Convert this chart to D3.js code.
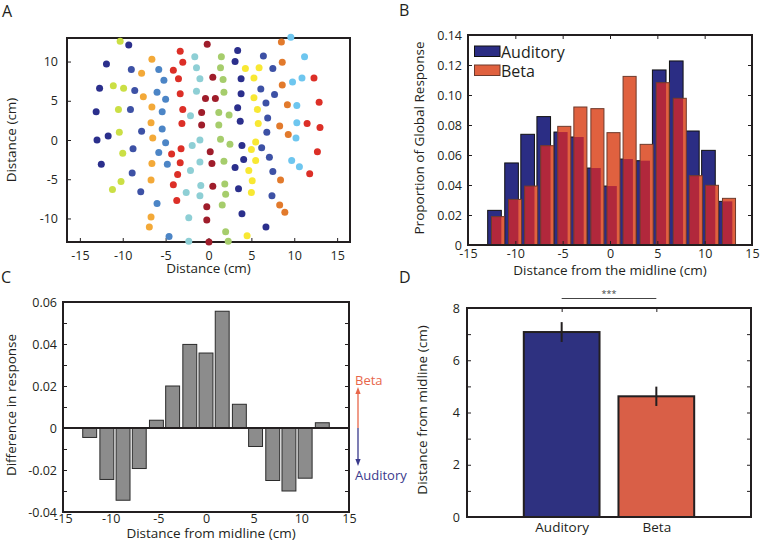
<!DOCTYPE html>
<html>
<head>
<meta charset="utf-8">
<script src="https://cdnjs.cloudflare.com/ajax/libs/d3/7.8.5/d3.min.js"></script>
<style>
  body { margin: 0; background: #fff; }
  svg { font-family: "Open Sans", sans-serif; }
</style>
</head>
<body>
<svg id="fig" width="760" height="541"></svg>
<script>
// ---- panel A: electrode positions (cm) and colour group index
const elecX = [-10.3,-9.3,-0.15,-3.3,-1.6,1.5,3.4,6.4,8.5,9.6,11.2,-11.9,-6.6,-3.0,3.1,8.6,-9.0,-7.8,-5.8,-4.1,
  -1.4,1.4,4.3,5.9,7.5,-5.2,-3.5,-1.0,0.5,1.7,3.8,5.3,8.6,9.8,10.9,12.3,-12.7,-11.1,-9.9,-8.6,
  -6.0,-7.6,-5.0,-3.3,-1.4,-0.35,0.8,1.8,3.8,6.1,7.7,5.3,6.7,9.2,10.3,12.9,-13.1,-10.5,-9.1,-6.6,
  -5.4,-3.0,-2.1,-0.8,1.2,2.4,3.4,5.7,6.9,-6.7,-3.1,-0.8,1.2,3.7,5.8,8.3,10.3,11.5,13.0,-11.7,
  -10.4,-7.8,-5.4,-13.0,-6.5,-5.0,-1.0,-1.9,1.4,2.5,3.9,5.5,6.8,9.3,10.2,6.2,5.0,-8.8,-3.2,-4.3,
  -5.8,0.2,-10.0,-12.5,-6.6,-4.8,-3.3,-1.0,0.4,1.8,3.1,4.1,5.5,7.1,9.7,10.6,12.7,11.8,-8.9,-2.1,
  -3.6,4.7,7.5,-10.2,-11.2,-6.7,-4.1,-0.9,0.5,1.9,5.1,8.4,-7.9,-2.6,-1.0,2.0,3.5,5.0,7.4,-3.7,
  -6.0,-0.2,1.6,8.3,8.9,3.9,-6.7,-2.3,-0.2,-6.9,6.7,-4.6,-2.3,0.05,2.0,2.3,4.5];
const elecY = [12.6,12.1,12.2,11.3,10.6,10.6,11.4,10.7,12.5,13.1,10.6,9.7,10.3,9.9,10.0,9.9,9.0,8.5,9.0,8.9,
  9.2,9.2,9.1,9.2,9.1,7.6,7.8,7.8,8.0,7.7,7.8,7.9,7.0,7.4,7.9,7.9,6.6,6.9,6.6,6.3,
  6.1,5.5,5.2,5.9,6.2,5.3,5.3,6.1,5.9,6.5,5.8,5.4,4.7,4.5,4.4,4.8,3.6,3.9,3.9,4.2,
  3.6,3.9,3.1,3.5,3.5,3.2,4.1,3.9,2.8,2.2,2.1,1.9,1.9,2.4,2.1,1.8,2.2,2.1,1.6,0.5,
  1.0,1.1,1.4,0,0.25,-0.35,0,-0.7,0.1,-0.55,-0.7,-0.25,1.0,0.7,0.25,-1.0,-1.2,-1.1,-1.1,-1.8,
  -1.6,-1.5,-1.7,-3.1,-3.0,-3.1,-2.9,-2.8,-3.0,-2.7,-3.5,-2.5,-2.6,-2.2,-2.6,-3.4,-1.5,-4.3,-4.2,-3.9,
  -4.4,-3.9,-4.0,-5.3,-6.3,-5.1,-5.7,-5.8,-5.9,-5.6,-5.2,-5.1,-6.6,-6.7,-7.1,-6.9,-6.2,-6.7,-7.1,-7.7,
  -8.1,-8.5,-8.3,-8.3,-9.2,-9.4,-9.8,-9.9,-10.2,-11.1,-11.1,-12.3,-12.9,-13.0,-11.7,-12.9,-12.2];
const elecGroup = [6,0,11,10,4,5,0,1,9,3,3,0,8,10,0,9,1,8,2,10,
  4,5,7,7,1,2,10,4,11,5,0,7,9,3,3,10,0,6,6,1,
  2,8,2,10,4,11,11,5,0,1,1,7,1,9,3,10,0,6,1,8,
  2,10,4,11,5,5,0,7,1,8,10,11,5,0,7,9,3,10,10,0,
  6,1,2,0,8,2,4,4,5,5,0,7,1,9,3,1,7,1,10,10,
  2,11,6,0,8,2,10,4,11,5,0,0,7,1,3,3,10,10,1,4,
  10,7,1,6,6,8,10,4,11,5,7,9,1,4,4,5,0,7,1,10,
  2,11,5,9,9,0,8,4,11,8,0,2,4,11,5,5,7];
const groupColors = ["#2b2f8c","#3d51a5","#4c85c6","#6ec6ef","#8ecfd5","#a6cd6c",
  "#cbdf45","#f8e833","#f3a938","#e27a2c","#dc2f27","#9f1d2b"];

// ---- panels B and C: bins along the midline (cm)
const binCenters = [-12.2,-10.4,-8.7,-7.0,-5.2,-3.5,-1.7,0,1.7,3.5,5.2,7.0,8.7,10.4,12.2];
const auditoryProp = [0.0231,0.0547,0.0738,0.0856,0.0753,0.0720,0.0513,0.0393,0.0573,0.0562,0.1167,0.1227,0.0760,0.0631,0.0291];
const betaProp = [0.0189,0.0304,0.0393,0.0662,0.0791,0.0920,0.0909,0.0749,0.1124,0.0671,0.1082,0.0978,0.0462,0.0398,0.0311];
const diffResp = [-0.0045,-0.0245,-0.0344,-0.0193,0.0037,0.0200,0.0398,0.0357,0.0556,0.0113,-0.0088,-0.0250,-0.0300,-0.0239,0.0025];

// ---- panel D
const conditions = ["Auditory", "Beta"];
const meanDist = [7.08, 4.62];
const semDist = [0.38, 0.37];

// ---- tick values
const distTicks = [-15,-10,-5,0,5,10,15];
const aYTicks = [-10,-5,0,5,10];
const bYTicks = [0,0.02,0.04,0.06,0.08,0.10,0.12,0.14];
const cYTicks = [-0.04,-0.02,0,0.02,0.04,0.06];
const cYMinor = [-0.03,-0.01,0.01,0.03,0.05];
const dYTicks = [0,2,4,6,8];
const dYMinor = [1,3,5,7];

const ink = "#231f20";
const navy = "#2b2d84", orange = "#e0613f", crimson = "#b1283c";
const svg = d3.select("#fig");

const fmt2 = d => d === 0 ? "0" : d.toFixed(2);
const fmtInt = d => String(d);

function addAxis(axis, tx, ty, size) {
  const a = svg.append("g")
    .attr("transform", `translate(${tx},${ty})`)
    .call(axis)
    .attr("font-family", null)
    .attr("font-size", size || 12.5);
  a.select(".domain").remove();
  a.selectAll(".tick line").attr("stroke", ink);
  a.selectAll(".tick text").attr("fill", ink);
  return a;
}

function box(p) {
  svg.append("rect")
    .attr("x", p.l).attr("y", p.t)
    .attr("width", p.r - p.l).attr("height", p.b - p.t)
    .attr("fill", "none").attr("stroke", ink).attr("stroke-width", 2);
}

function label(txt, x, y, opts) {
  opts = opts || {};
  const t = svg.append("text")
    .attr("x", x).attr("y", y)
    .attr("fill", opts.fill || ink)
    .attr("font-size", opts.size || 13.5)
    .attr("text-anchor", opts.anchor || "middle")
    .text(txt);
  if (opts.rotate) t.attr("transform", `rotate(-90,${x},${y})`);
  return t;
}

// ================= Panel A
const pA = {l: 67, r: 350, t: 38, b: 242};
const xA = d3.scaleLinear().domain([-16.5, 16.5]).range([pA.l, pA.r]);
const yA = d3.scaleLinear().domain([-13, 13]).range([pA.b, pA.t]);
box(pA);
addAxis(d3.axisBottom(xA).tickValues(distTicks).tickSize(-4).tickPadding(9).tickFormat(fmtInt), 0, pA.b);
addAxis(d3.axisLeft(yA).tickValues(aYTicks).tickSize(-4).tickPadding(9).tickFormat(fmtInt), pA.l, 0);
svg.append("g").selectAll("circle")
  .data(elecX.map((x, i) => ({x: x, y: elecY[i], g: elecGroup[i]})))
  .enter().append("circle")
  .attr("cx", d => xA(d.x))
  .attr("cy", d => yA(d.y))
  .attr("r", 3.5)
  .attr("fill", d => groupColors[d.g]);
label("Distance (cm)", 208.5, 273);
label("Distance (cm)", 16, 140, {rotate: true});
label("A", 2, 17, {size: 16, anchor: "start"});

// ================= Panel B
const pB = {l: 468, r: 752, t: 35, b: 245};
const xB = d3.scaleLinear().domain([-15, 15]).range([pB.l, pB.r]);
const yB = d3.scaleLinear().domain([0, 0.14]).range([pB.b, pB.t]);
const audHalf = 0.72, betaHalf = 0.69, betaShift = 0.37;
const binsB = binCenters.map((c, i) => ({c: c, a: auditoryProp[i], b: betaProp[i]}));
const gB = svg.append("g");
gB.selectAll("rect.aud").data(binsB).enter().append("rect")
  .attr("class", "aud")
  .attr("x", d => xB(d.c - audHalf))
  .attr("width", d => xB(d.c + audHalf) - xB(d.c - audHalf))
  .attr("y", d => yB(d.a))
  .attr("height", d => yB(0) - yB(d.a))
  .attr("fill", navy).attr("stroke", "#111").attr("stroke-width", 1);
gB.selectAll("rect.beta").data(binsB).enter().append("rect")
  .attr("class", "beta")
  .attr("x", d => xB(d.c + betaShift - betaHalf))
  .attr("width", d => xB(d.c + betaShift + betaHalf) - xB(d.c + betaShift - betaHalf))
  .attr("y", d => yB(d.b))
  .attr("height", d => yB(0) - yB(d.b))
  .attr("fill", orange);
// overlap of the two bars reads as crimson
gB.selectAll("rect.ovl").data(binsB).enter().append("rect")
  .attr("class", "ovl")
  .attr("x", d => xB(d.c + betaShift - betaHalf))
  .attr("width", d => xB(d.c + audHalf) - xB(d.c + betaShift - betaHalf))
  .attr("y", d => yB(Math.min(d.a, d.b)))
  .attr("height", d => yB(0) - yB(Math.min(d.a, d.b)))
  .attr("fill", crimson);
gB.selectAll("rect.betaEdge").data(binsB).enter().append("rect")
  .attr("class", "betaEdge")
  .attr("x", d => xB(d.c + betaShift - betaHalf))
  .attr("width", d => xB(d.c + betaShift + betaHalf) - xB(d.c + betaShift - betaHalf))
  .attr("y", d => yB(d.b))
  .attr("height", d => yB(0) - yB(d.b))
  .attr("fill", "none").attr("stroke", "#6e3a2c").attr("stroke-width", 1);
box(pB);
addAxis(d3.axisBottom(xB).tickValues(distTicks).tickSize(-4).tickPadding(4).tickFormat(fmtInt), 0, pB.b);
addAxis(d3.axisTop(xB).tickValues(distTicks).tickSize(-4).tickFormat(""), 0, pB.t);
addAxis(d3.axisLeft(yB).tickValues(bYTicks).tickSize(-4).tickPadding(6).tickFormat(fmt2), pB.l, 0);
addAxis(d3.axisRight(yB).tickValues(bYTicks).tickSize(-4).tickFormat(""), pB.r, 0);
// legend
[["Auditory", navy, "#111", 46], ["Beta", orange, "#6e3a2c", 65]].forEach(([name, fill, edge, ty]) => {
  svg.append("rect").attr("x", 474.5).attr("y", ty).attr("width", 25.5).attr("height", 10.5)
    .attr("fill", fill).attr("stroke", edge).attr("stroke-width", 1);
  label(name, 501, ty + 11.5, {size: 16, anchor: "start"});
});
label("Distance from the midline (cm)", 610, 275);
label("Proportion of Global Response", 424, 138, {rotate: true});
label("B", 399, 16, {size: 16, anchor: "start"});

// ================= Panel C
const pC = {l: 63, r: 349, t: 302, b: 512};
const xC = d3.scaleLinear().domain([-15, 15]).range([pC.l, pC.r]);
const yC = d3.scaleLinear().domain([-0.04, 0.06]).range([pC.b, pC.t]);
const cHalf = 0.73;
svg.append("g").selectAll("rect")
  .data(binCenters.map((c, i) => ({c: c, v: diffResp[i]})))
  .enter().append("rect")
  .attr("x", d => xC(d.c - cHalf))
  .attr("width", d => xC(d.c + cHalf) - xC(d.c - cHalf))
  .attr("y", d => yC(Math.max(0, d.v)))
  .attr("height", d => Math.abs(yC(d.v) - yC(0)))
  .attr("fill", "#8c8c8c").attr("stroke", "#2b2b2b").attr("stroke-width", 1);
svg.append("line")
  .attr("x1", pC.l).attr("x2", pC.r).attr("y1", yC(0)).attr("y2", yC(0))
  .attr("stroke", ink).attr("stroke-width", 2);
box(pC);
addAxis(d3.axisBottom(xC).tickValues(distTicks).tickSize(0).tickPadding(2).tickFormat(fmtInt), 0, pC.b);
addAxis(d3.axisLeft(yC).tickValues(cYTicks.concat(cYMinor)).tickSize(-4).tickPadding(6)
  .tickFormat(d => cYTicks.includes(d) ? fmt2(d) : ""), pC.l, 0);
addAxis(d3.axisRight(yC).tickValues(cYTicks.concat(cYMinor)).tickSize(-4).tickFormat(""), pC.r, 0);
// direction arrows
const arrX = 358, z0 = yC(0);
svg.append("line").attr("x1", arrX).attr("x2", arrX).attr("y1", z0).attr("y2", z0 - 36)
  .attr("stroke", "#e8664a").attr("stroke-width", 1.3);
svg.append("path").attr("d", `M${arrX - 2.6},${z0 - 34} L${arrX},${z0 - 41} L${arrX + 2.6},${z0 - 34} Z`)
  .attr("fill", "#e8664a");
svg.append("line").attr("x1", arrX).attr("x2", arrX).attr("y1", z0).attr("y2", z0 + 33)
  .attr("stroke", "#3a3a8c").attr("stroke-width", 1.3);
svg.append("path").attr("d", `M${arrX - 2.6},${z0 + 31} L${arrX},${z0 + 38} L${arrX + 2.6},${z0 + 31} Z`)
  .attr("fill", "#3a3a8c");
label("Beta", 355, 385, {size: 13, anchor: "start", fill: "#e8664a"});
label("Auditory", 355, 480, {size: 13, anchor: "start", fill: "#3a3a8c"});
label("Distance from midline (cm)", 211, 537.5);
label("Difference in response", 15.5, 405, {rotate: true});
label("C", 1, 283, {size: 16, anchor: "start"});

// ================= Panel D
const pD = {l: 467, r: 751, t: 308, b: 517};
const xD = d3.scaleLinear().domain([0, 3]).range([pD.l, pD.r]);
const yD = d3.scaleLinear().domain([0, 8]).range([pD.b, pD.t]);
const barsD = conditions.map((c, i) => ({i: i + 1, name: c, m: meanDist[i], s: semDist[i]}));
svg.append("g").selectAll("rect").data(barsD).enter().append("rect")
  .attr("x", d => xD(d.i - 0.4))
  .attr("width", d => xD(d.i + 0.4) - xD(d.i - 0.4))
  .attr("y", d => yD(d.m))
  .attr("height", d => yD(0) - yD(d.m))
  .attr("fill", (d, i) => i === 0 ? "#2e3180" : "#d95f47")
  .attr("stroke", ink).attr("stroke-width", 2);
svg.append("g").selectAll("line").data(barsD).enter().append("line")
  .attr("x1", d => xD(d.i)).attr("x2", d => xD(d.i))
  .attr("y1", d => yD(d.m - d.s)).attr("y2", d => yD(d.m + d.s))
  .attr("stroke", ink).attr("stroke-width", 2);
box(pD);
addAxis(d3.axisBottom(xD).tickValues([1, 2]).tickSize(0).tickPadding(5).tickFormat(d => conditions[d - 1]), 0, pD.b, 13.5);
addAxis(d3.axisTop(xD).tickValues([1, 2]).tickSize(-4).tickFormat(""), 0, pD.t);
addAxis(d3.axisLeft(yD).tickValues(dYTicks.concat(dYMinor)).tickSize(-4).tickPadding(7)
  .tickFormat(d => dYTicks.includes(d) ? fmtInt(d) : ""), pD.l, 0);
addAxis(d3.axisRight(yD).tickValues(dYTicks.concat(dYMinor)).tickSize(-4).tickFormat(""), pD.r, 0);
// significance bracket
svg.append("line").attr("x1", xD(1)).attr("x2", xD(2)).attr("y1", 298.5).attr("y2", 298.5)
  .attr("stroke", "#444").attr("stroke-width", 1);
label("***", (xD(1) + xD(2)) / 2, 297, {size: 9, fill: "#444"});
label("Distance from midline (cm)", 427, 410, {rotate: true});
label("D", 399, 283, {size: 16, anchor: "start"});
</script>
</body>
</html>
